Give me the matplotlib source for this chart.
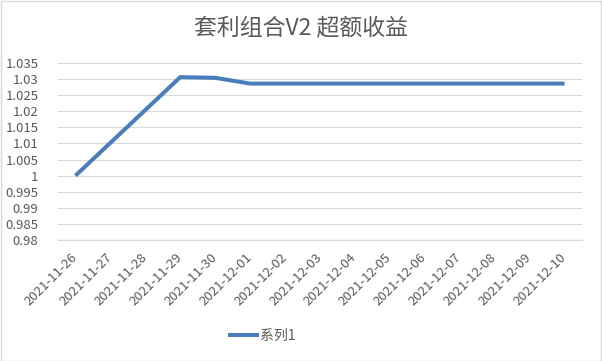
import matplotlib
matplotlib.use("Agg")
import matplotlib.pyplot as plt
import matplotlib.transforms as mtransforms
import numpy as np

plt.rcParams['font.family'] = ['Noto Sans CJK SC', 'DejaVu Sans']

dates = ["2021-11-26", "2021-11-27", "2021-11-28", "2021-11-29", "2021-11-30",
         "2021-12-01", "2021-12-02", "2021-12-03", "2021-12-04", "2021-12-05",
         "2021-12-06", "2021-12-07", "2021-12-08", "2021-12-09", "2021-12-10"]
values = [1.0, 1.0102, 1.0204, 1.0306, 1.0304, 1.0286, 1.0286, 1.0286, 1.0286,
          1.0286, 1.0286, 1.0286, 1.0286, 1.0286, 1.0286]
yticks = [0.98, 0.985, 0.99, 0.995, 1.0, 1.005, 1.01, 1.015, 1.02, 1.025, 1.03, 1.035]
ytick_labels = ["0.98", "0.985", "0.99", "0.995", "1", "1.005", "1.01", "1.015",
                "1.02", "1.025", "1.03", "1.035"]
title = "套利组合V2 超额收益"
series_name = "系列1"

txt = "#595959"
fig = plt.figure(figsize=(6.02, 3.61), dpi=100)
ax = fig.add_axes([58/602, 1-240/361, 524/602, 177/361])
x = np.arange(len(dates))
ax.plot(x, values, color="#4a7ebb", lw=2.9, solid_capstyle="butt", label=series_name)
ax.set_xlim(-0.5, len(dates)-0.5)
ax.set_ylim(0.98, 1.035)
ax.set_yticks(yticks)
ax.set_yticklabels(ytick_labels, color=txt, fontsize=9.5)
ax.set_xticks(x)
ax.set_xticklabels(dates, rotation=45, ha="right", rotation_mode="anchor",
                   color=txt, fontsize=9.5)
ax.tick_params(axis="both", length=0)
ax.tick_params(axis="x", pad=8)
ax.tick_params(axis="y", pad=14)
off = mtransforms.ScaledTranslation(-5/100, 0, fig.dpi_scale_trans)
for lab in ax.get_xticklabels():
    lab.set_transform(lab.get_transform() + off)
ax.grid(axis="y", color="#d9d9d9", lw=0.9)
ax.set_axisbelow(True)
for s in ["left", "right", "top"]:
    ax.spines[s].set_visible(False)
ax.spines["bottom"].set_color("#d9d9d9")
ax.spines["bottom"].set_linewidth(0.9)

fig.text(0.5, 1-28/361, title, ha="center", va="center", fontsize=16.5, color=txt)
leg = fig.legend(loc="center", bbox_to_anchor=(262/602, 1-336/361), frameon=False,
                 fontsize=10, handlelength=2.2, labelcolor=txt, handletextpad=0.1)

fig.patches.append(plt.Rectangle((0.001, 0.001), 0.997, 0.997, transform=fig.transFigure,
                                 fill=False, edgecolor="#d9d9d9", lw=1))
fig.savefig("out.png", dpi=100)
